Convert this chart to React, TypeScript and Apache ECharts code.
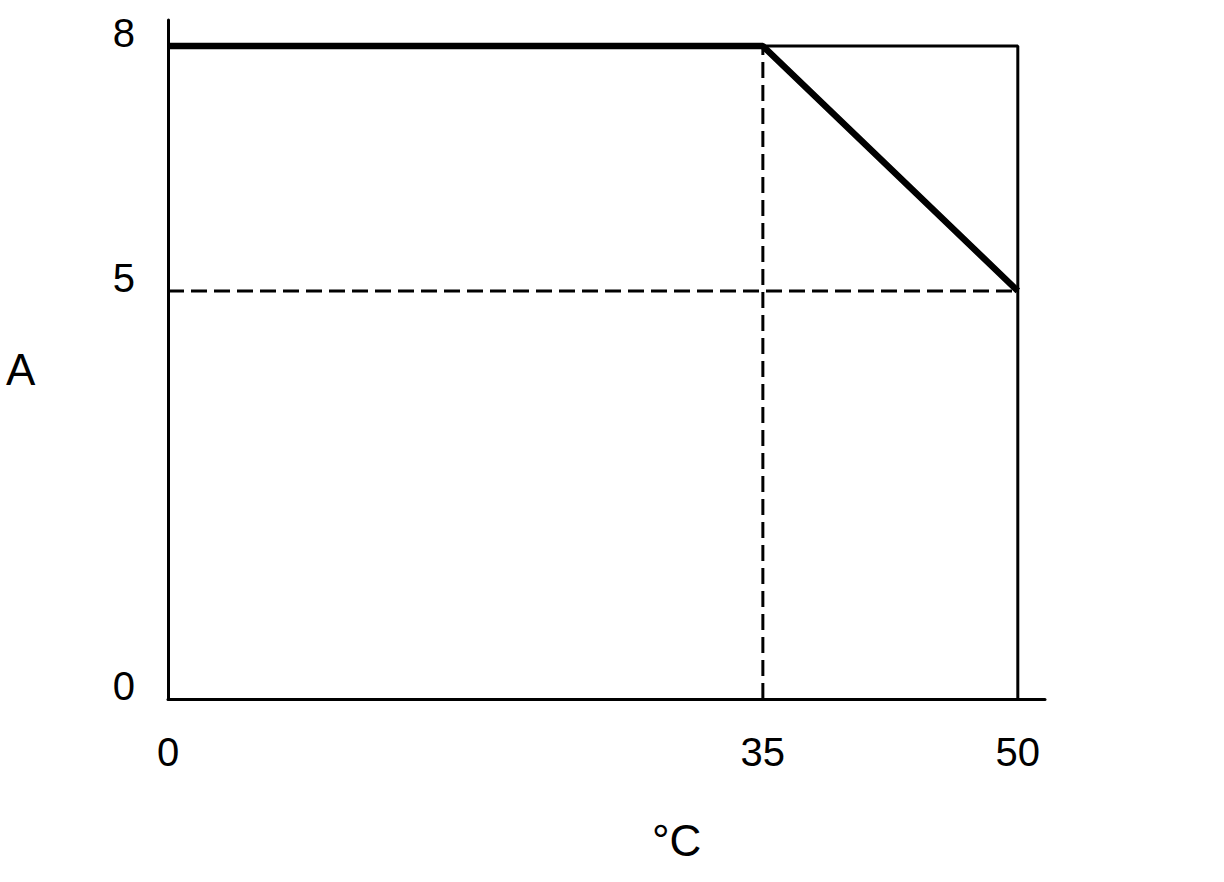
import React, { useEffect, useRef } from "react";
import * as echarts from "echarts";

const xTicks = [0, 35, 50];
const yTicks = [0, 5, 8];
const curveX = [0, 35, 50];
const curveY = [8, 8, 5];
const frameX = [0, 50, 50];
const frameY = [8, 8, 0];
const kneeX = 35;
const kneeY = 8;
const endX = 50;
const endY = 5;
const xName = "°C";
const yName = "A";

const FONT = "'Liberation Sans', Arial, sans-serif";

export default function App() {
  const ref = useRef<HTMLDivElement>(null);
  useEffect(() => {
    if (!ref.current) return;
    const chart = echarts.init(ref.current, undefined, { renderer: "svg" });
    const curve = curveX.map((x, i) => [x, curveY[i]]);
    const frame = frameX.map((x, i) => [x, frameY[i]]);
    const dashV = [[kneeX, 0], [kneeX, kneeY]];
    const dashH = [[0, endY], [endX, endY]];
    const thin = { color: "#000", width: 3 };
    chart.setOption({
      animation: false,
      backgroundColor: "#fff",
      grid: { left: 168, right: 179, top: 20, bottom: 183, containLabel: false },
      xAxis: {
        type: "value",
        min: 0,
        max: 51.6,
        splitLine: { show: false },
        axisLine: { show: true, onZero: false, lineStyle: thin },
        axisTick: { show: false },
        axisLabel: {
          customValues: xTicks,
          margin: 33,
          fontSize: 40,
          color: "#000",
          fontFamily: FONT,
        },
      },
      yAxis: {
        type: "value",
        min: 0,
        max: 8.32,
        splitLine: { show: false },
        axisLine: { show: true, onZero: false, lineStyle: thin },
        axisTick: { show: false },
        axisLabel: {
          customValues: yTicks,
          margin: 33,
          fontSize: 40,
          color: "#000",
          fontFamily: FONT,
          verticalAlign: "bottom",
          lineHeight: 26,
        },
      },
      graphic: [
        {
          type: "text",
          left: 6,
          top: 347,
          style: { text: yName, fontSize: 44, fill: "#000", fontFamily: FONT },
        },
        {
          type: "text",
          left: 652,
          top: 818,
          style: { text: xName, fontSize: 44, fill: "#000", fontFamily: FONT },
        },
      ],
      series: [
        {
          type: "line",
          data: frame,
          symbol: "none",
          lineStyle: thin,
          z: 2,
        },
        {
          type: "line",
          data: dashV,
          symbol: "none",
          lineStyle: { color: "#000", width: 3, type: [16, 7] },
          z: 2,
        },
        {
          type: "line",
          data: dashH,
          symbol: "none",
          lineStyle: { color: "#000", width: 3, type: [16, 7] },
          z: 2,
        },
        {
          type: "line",
          data: curve,
          symbol: "none",
          lineStyle: { color: "#000", width: 6.5 },
          z: 5,
        },
      ],
    });
    return () => chart.dispose();
  }, []);
  return (
    <div
      ref={ref}
      style={{ position: "fixed", left: 0, top: 0, width: 1224, height: 882 }}
    />
  );
}
